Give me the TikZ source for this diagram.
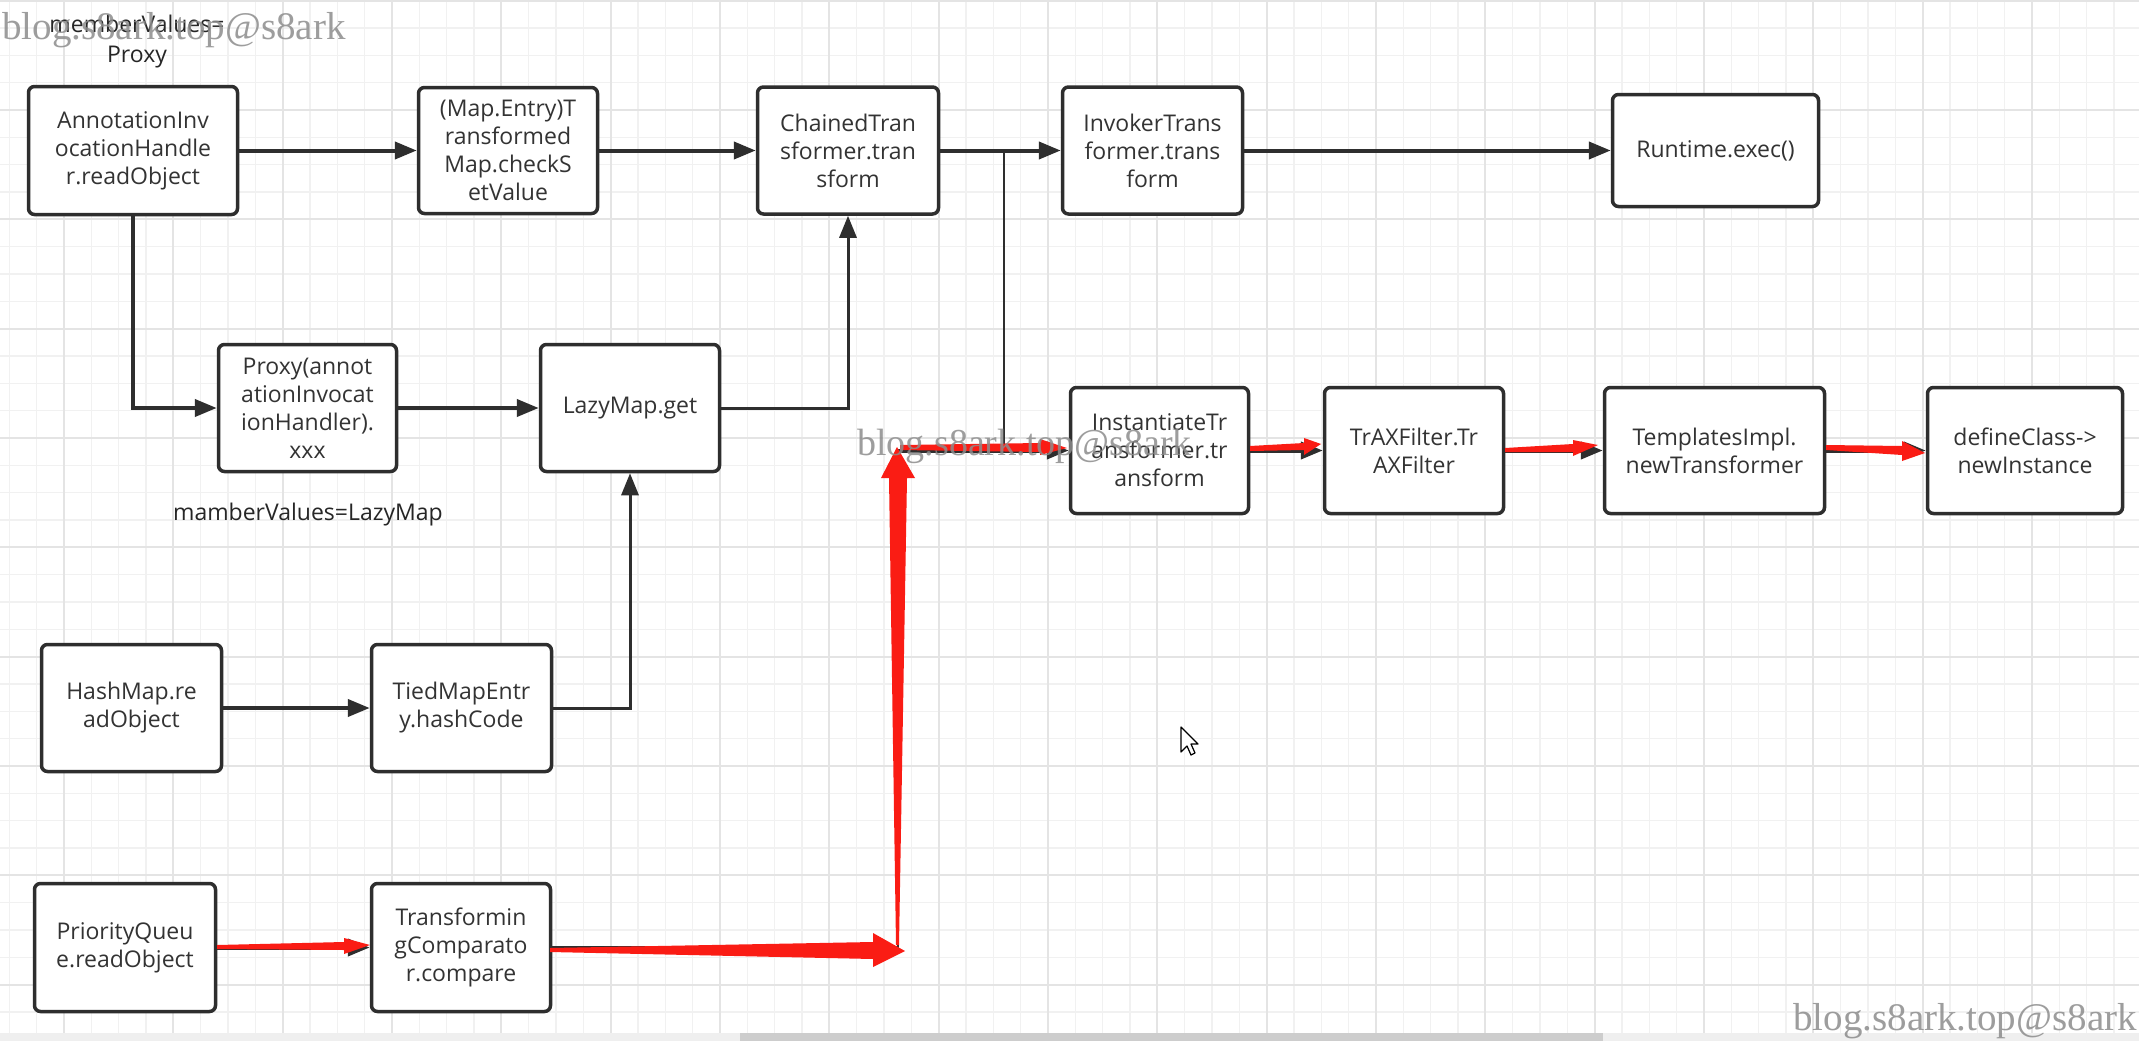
\documentclass[tikz,border=0pt]{standalone}
\usepackage{fontspec}
\setmainfont{Open Sans}
\newfontfamily\wmfont{Liberation Serif}
\usetikzlibrary{arrows.meta}
\definecolor{boxc}{HTML}{2E2E2E}
\definecolor{linec}{HTML}{2E2E2E}
\definecolor{txtc}{HTML}{333333}
\definecolor{gridminor}{HTML}{F1F1F1}
\definecolor{gridmajor}{HTML}{E4E4E4}
\definecolor{redc}{RGB}{250,28,20}
\definecolor{wmc}{HTML}{8C8C8C}
\definecolor{sbar}{HTML}{EFEFEF}
\definecolor{sthumb}{HTML}{CDCDCD}
\begin{document}
\begin{tikzpicture}[x=1pt,y=-1pt,
  box/.style={draw=boxc,line width=3.5pt,rounded corners=6pt,fill=white,align=center,inner sep=0pt,text=txtc,font=\fontsize{23}{28}\selectfont},
  conn/.style={draw=linec,line width=4pt,-{Triangle[length=22pt,width=17pt]}},
  thinconn/.style={draw=linec,line width=3pt,-{Triangle[length=22pt,width=17pt]}},
  thinl/.style={draw=linec,line width=2.5pt},
  lbl/.style={text=black!85,font=\fontsize{23}{30}\selectfont,align=center,inner sep=0pt},
  wm/.style={text=wmc,text opacity=0.85,font=\wmfont\fontsize{39}{39}\selectfont,inner sep=0pt},
  redarrow/.style={fill=redc,draw=none}]
% canvas
\fill[white] (0,0) rectangle (2139,1041);
\useasboundingbox (0,0) rectangle (2139,1041);
% grid
\foreach \i in {0,...,78} {\draw[gridminor,line width=1.5pt] ({9.3+27.333*\i},0) -- ++(0,1041);}
\foreach \j in {0,...,38} {\draw[gridminor,line width=1.5pt] (0,{0.7+27.333*\j}) -- ++(2139,0);}
\foreach \i in {0,...,19} {\draw[gridmajor,line width=1.8pt] ({64+109.333*\i},0) -- ++(0,1041);}
\foreach \j in {0,...,9} {\draw[gridmajor,line width=1.8pt] (0,{0.7+109.333*\j}) -- ++(2139,0);}
% scrollbar
\fill[sbar] (0,1033) rectangle (2139,1041);
\fill[sthumb] (740,1033) rectangle (1603,1041);

% nodes
\node[box,minimum width=209pt,minimum height=128pt] (A) at (133,150.5) {AnnotationInv\\ocationHandle\\r.readObject};
\node[box,minimum width=179pt,minimum height=126pt] (B) at (508,150.5) {(Map.Entry)T\\ransformed\\Map.checkS\\etValue};
\node[box,minimum width=181pt,minimum height=127pt] (C) at (848,150.5) {ChainedTran\\sformer.tran\\sform};
\node[box,minimum width=180pt,minimum height=127pt] (D) at (1152.5,150.5) {InvokerTrans\\former.trans\\form};
\node[box,minimum width=206pt,minimum height=112pt] (E) at (1715.5,150.5) {Runtime.exec()};
\node[box,minimum width=178pt,minimum height=127pt] (F) at (307.5,408) {Proxy(annot\\ationInvocat\\ionHandler).\\xxx};
\node[box,minimum width=179pt,minimum height=127pt] (G) at (630,408) {LazyMap.get};
\node[box,minimum width=178pt,minimum height=126pt] (H) at (1159.5,450.5) {InstantiateTr\\ansformer.tr\\ansform};
\node[box,minimum width=179pt,minimum height=126pt] (I) at (1414,450.5) {TrAXFilter.Tr\\AXFilter};
\node[box,minimum width=220pt,minimum height=126pt] (J) at (1714.5,450.5) {TemplatesImpl.\\newTransformer};
\node[box,minimum width=195pt,minimum height=126pt] (K) at (2025,450.5) {defineClass->\\newInstance};
\node[box,minimum width=180pt,minimum height=127pt] (L) at (131.5,708) {HashMap.re\\adObject};
\node[box,minimum width=180pt,minimum height=127pt] (M) at (461.5,708) {TiedMapEntr\\y.hashCode};
\node[box,minimum width=181pt,minimum height=128pt] (N) at (125,947.5) {PriorityQueu\\e.readObject};
\node[box,minimum width=179pt,minimum height=128pt] (O) at (461,947.5) {Transformin\\gComparato\\r.compare};

% labels
\node[lbl] (lab1) at (137,42) {memberValues=\\Proxy};
\node[lbl] (lab2) at (308,515) {mamberValues=LazyMap};

% black connectors
\draw[conn] (A.east) -- (B.west);
\draw[conn] (B.east) -- (C.west);
\draw[conn] (C.east) -- (D.west);
\draw[conn] (D.east) -- (E.west);
\draw[conn] (A.south) |- (F.west);
\draw[conn] (F.east) -- (G.west);
\draw[thinconn] (G.east) -| (C.south);
\draw[conn] (L.east) -- (M.west);
\draw[thinconn] (M.east) -| (G.south);
\coordinate (br) at (1004,150.5);
\draw[thinl] (br) -- (br |- H.west);
\coordinate (cor) at (898,450.5);
\draw[thinl] (O.east) -| (cor);
\draw[conn] (cor) -- (H.west);
\draw[conn] (H.east) -- (I.west);
\draw[conn] (I.east) -- (J.west);
\draw[conn] (J.east) -- (K.west);
\draw[conn] (N.east) -- (O.west);

% red hand-drawn arrows
\fill[redarrow] (217,945) -- (344,942) -- (344,938) -- (370,945) -- (344,954) -- (344,950) -- (217,949) -- cycle;
\fill[redarrow] (550,948) -- (873,942) -- (873,933) -- (905,951) -- (873,967) -- (873,959) -- (550,952) -- cycle;
\fill[redarrow] (896,945) -- (889,478) -- (881,478) -- (897,447) -- (915,478) -- (907,478) -- (899,945) -- cycle;
\fill[redarrow] (900,445) -- (1040,443) -- (1040,439) -- (1067,448) -- (1040,455) -- (1040,452) -- (900,450) -- cycle;
\fill[redarrow] (1250,446) -- (1304,443) -- (1304,438) -- (1321,444) -- (1304,455) -- (1304,450) -- (1250,451) -- cycle;
\fill[redarrow] (1505,448) -- (1573,444) -- (1573,440) -- (1598,445) -- (1573,456) -- (1573,452) -- (1505,452) -- cycle;
\fill[redarrow] (1826,445) -- (1902,446) -- (1902,441) -- (1925,453) -- (1902,461) -- (1902,455) -- (1826,450) -- cycle;

% mouse cursor
\filldraw[fill=white,draw=black,line width=1.2pt,line join=round] (1181,727) -- (1181,752) -- (1187,746) -- (1191,755) -- (1195,753) -- (1191,744) -- (1198,744) -- cycle;

% watermarks
\node[wm,anchor=base west] (w1) at (2,40) {blog.s8ark.top@s8ark};
\node[wm,anchor=base west,font=\wmfont\fontsize{38}{38}\selectfont] (w2) at (857,455) {blog.s8ark.top@s8ark};
\node[wm,anchor=base east] (w3) at (2137,1030) {blog.s8ark.top@s8ark};
\end{tikzpicture}
\end{document}
